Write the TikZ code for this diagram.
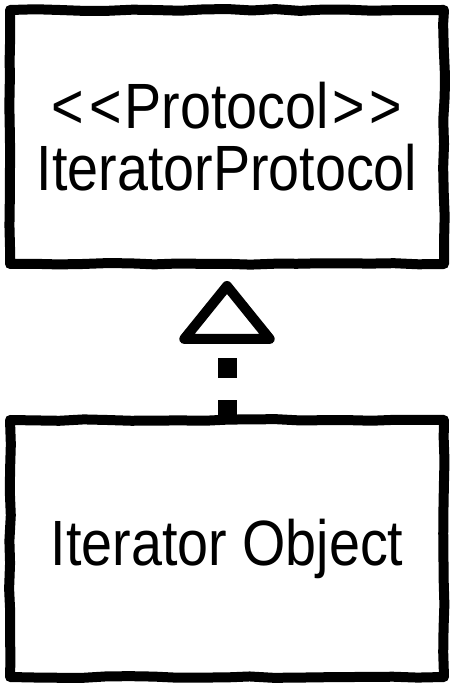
\documentclass[tikz,border=0pt]{standalone}
\usepackage{fontspec}
\newfontfamily\handfont[FakeStretch=0.87]{Liberation Sans}
\usetikzlibrary{positioning}
\usetikzlibrary{arrows.meta}
\usetikzlibrary{decorations.pathmorphing}
\tikzset{box/.style={draw, line width=10pt, line join=round, inner sep=0pt, minimum width=434pt, align=center, font=\handfont\fontsize{64}{62}\selectfont, decorate, decoration={random steps, segment length=24pt, amplitude=0.9pt}}}
\tikzset{realize/.style={line width=19pt, dash pattern=on 20pt off 22pt, dash phase=5pt, -{Triangle[open, round, length=66pt, width=104pt, line width=10pt]}, shorten >=12pt}}

\begin{document}
\begin{tikzpicture}[x=1pt, y=1pt]
		\pgfmathsetseed{7}
		\useasboundingbox (0,0) rectangle (454,686);
		%
		\node (protocol) [box, minimum height=254pt] at (227,549) {\textless\hspace{5pt}\textless\hspace{3pt}Protocol\hspace{3pt}\textgreater\hspace{5pt}\textgreater\\IteratorProtocol};
		\node (object) [box, minimum height=257pt, below=146pt of protocol] {Iterator Object};
		%
		\draw [realize] (object.north) -- (protocol.south);
	\end{tikzpicture}
\end{document}
